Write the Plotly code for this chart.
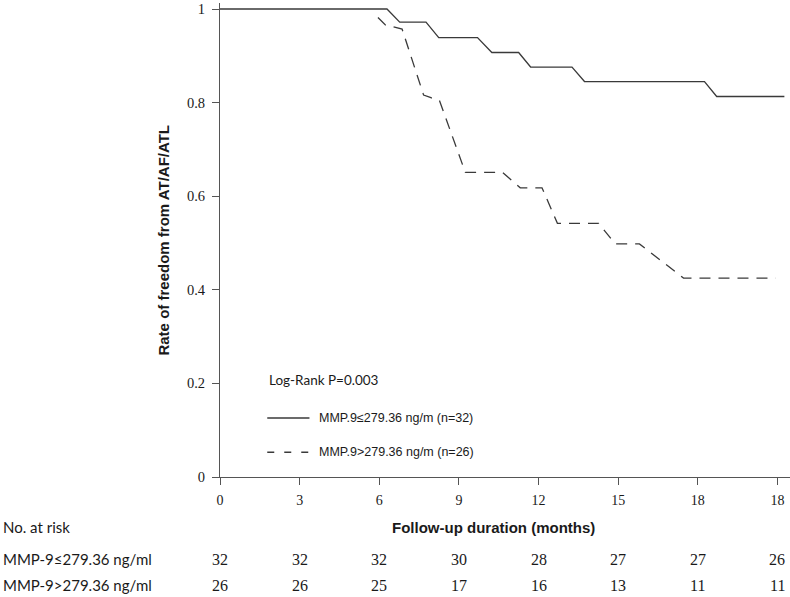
import plotly.graph_objects as go

# ---- data ----
solid_t = [0, 6.29, 6.77, 7.76, 8.24, 9.70, 10.24, 11.25, 11.70, 13.26, 13.73, 18.25, 18.71, 21.26]
solid_s = [1.0, 1.0, 0.972, 0.972, 0.939, 0.939, 0.907, 0.907, 0.876, 0.876, 0.845, 0.845, 0.813, 0.813]

dashed_t = [5.95, 6.23, 6.86, 7.67, 7.92, 8.27, 9.24, 10.64, 11.31, 12.13, 12.71, 14.26, 14.89, 15.80, 17.46, 20.93]
dashed_s = [0.982, 0.966, 0.957, 0.816, 0.811, 0.804, 0.651, 0.651, 0.618, 0.618, 0.542, 0.542, 0.498, 0.498, 0.425, 0.425]

x_tickvals = [0, 3, 6, 9, 12, 15, 18, 21]
x_ticktext = ["0", "3", "6", "9", "12", "15", "18", "18"]
y_tickvals = [0, 0.2, 0.4, 0.6, 0.8, 1.0]
y_ticktext = ["0", "0.2", "0.4", "0.6", "0.8", "1"]

risk_low = [32, 32, 32, 30, 28, 27, 27, 26]
risk_high = [26, 26, 25, 17, 16, 13, 11, 11]

name_low = "MMP.9≤279.36 ng/m (n=32)"
name_high = "MMP.9>279.36 ng/m (n=26)"
row_low = "MMP-9≤279.36 ng/ml"
row_high = "MMP-9>279.36 ng/ml"
logrank = "Log-Rank P=0.003"

# ---- layout geometry ----
W, H = 790, 597
ML, MR, MT, MB = 219.5, 0, 3, 120
PW = W - ML - MR
PH = H - MT - MB
px_per_month = 26.57
x_max = PW / px_per_month
y_max = PH / 468.0

def py_to_paper(py):
    return (H - MB - py) / PH

line_col = "#3a3a3a"
axis_col = "#555555"
txt_col = "#1a1a1a"
serif = "Liberation Serif"
sans = "Liberation Sans"
humanist = "Lato"

fig = go.Figure()
fig.add_trace(go.Scatter(x=solid_t, y=solid_s, mode="lines",
                         line=dict(color=line_col, width=1.3), showlegend=False,
                         name=name_low))
fig.add_trace(go.Scatter(x=dashed_t, y=dashed_s, mode="lines",
                         line=dict(color=line_col, width=1.3, dash="11px,8px"),
                         showlegend=False, name=name_high))

annotations = []
annotations.append(dict(x=1.78, y=0.207, xref="x", yref="y", text=logrank,
                        showarrow=False, xanchor="left", yanchor="middle",
                        font=dict(family=humanist, size=13.5, color=txt_col)))
annotations.append(dict(x=3.67, y=0.126, xref="x", yref="y", text=name_low,
                        showarrow=False, xanchor="left", yanchor="middle",
                        font=dict(family=sans, size=12.5, color=txt_col)))
annotations.append(dict(x=3.67, y=0.053, xref="x", yref="y", text=name_high,
                        showarrow=False, xanchor="left", yanchor="middle",
                        font=dict(family=sans, size=12.5, color=txt_col)))
annotations.append(dict(x=(162 - ML) / PW, y=py_to_paper(240), xref="paper", yref="paper",
                        text="<b>Rate of freedom from AT/AF/ATL</b>", textangle=-90,
                        showarrow=False, xanchor="center", yanchor="middle",
                        font=dict(family=sans, size=15, color=txt_col)))
annotations.append(dict(x=(493 - ML) / PW, y=py_to_paper(527), xref="paper", yref="paper",
                        text="<b>Follow-up duration (months)</b>",
                        showarrow=False, xanchor="center", yanchor="middle",
                        font=dict(family=sans, size=15, color=txt_col)))
label_x = -ML / PW
annotations.append(dict(x=label_x, y=py_to_paper(527), xref="paper", yref="paper",
                        text="No. at risk", showarrow=False, xanchor="left", yanchor="middle",
                        font=dict(family=humanist, size=15, color=txt_col)))
annotations.append(dict(x=label_x, y=py_to_paper(559), xref="paper", yref="paper",
                        text=row_low, showarrow=False, xanchor="left", yanchor="middle",
                        font=dict(family=humanist, size=15, color=txt_col)))
annotations.append(dict(x=label_x, y=py_to_paper(585), xref="paper", yref="paper",
                        text=row_high, showarrow=False, xanchor="left", yanchor="middle",
                        font=dict(family=humanist, size=15, color=txt_col)))
for xv, a, b in zip(x_tickvals, risk_low, risk_high):
    annotations.append(dict(x=xv, y=py_to_paper(559), xref="x", yref="paper",
                            text=str(a), showarrow=False, xanchor="center", yanchor="middle",
                            font=dict(family=serif, size=16, color=txt_col)))
    annotations.append(dict(x=xv, y=py_to_paper(585), xref="x", yref="paper",
                            text=str(b), showarrow=False, xanchor="center", yanchor="middle",
                            font=dict(family=serif, size=16, color=txt_col)))

shapes = [
    dict(type="line", xref="x", yref="y", x0=1.78, x1=3.37, y0=0.126, y1=0.126,
         line=dict(color=line_col, width=1.5)),
    dict(type="line", xref="x", yref="y", x0=1.78, x1=3.37, y0=0.053, y1=0.053,
         line=dict(color=line_col, width=1.5, dash="7px,10px")),
]

fig.update_layout(
    width=W, height=H,
    margin=dict(l=ML, r=MR, t=MT, b=MB, pad=0),
    paper_bgcolor="white", plot_bgcolor="white",
    showlegend=False,
    annotations=annotations,
    shapes=shapes,
    xaxis=dict(range=[0, x_max], tickvals=x_tickvals, ticktext=x_ticktext,
               showline=True, linecolor=axis_col, linewidth=1,
               ticks="outside", ticklen=7, tickcolor=axis_col, tickwidth=1,
               showgrid=False, zeroline=False, fixedrange=True,
               tickfont=dict(family=serif, size=14, color=txt_col),
               ticklabelstandoff=3),
    yaxis=dict(range=[0, y_max], tickvals=y_tickvals, ticktext=y_ticktext,
               showline=True, linecolor=axis_col, linewidth=1,
               ticks="outside", ticklen=7, tickcolor=axis_col, tickwidth=1,
               showgrid=False, zeroline=False, fixedrange=True,
               tickfont=dict(family=serif, size=14.5, color=txt_col),
               ticklabelstandoff=4),
)

fig.write_html("out.html", config={"displayModeBar": False},
               post_script="document.body.style.margin='0';document.body.style.overflow='hidden';")
